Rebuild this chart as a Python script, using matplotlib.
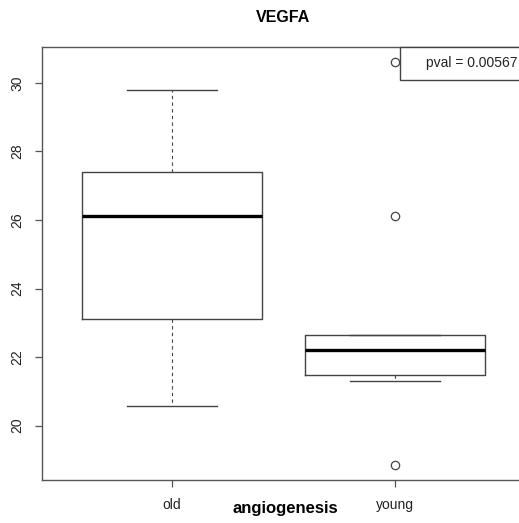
import matplotlib.pyplot as plt

plt.rcParams['font.family'] = ['Liberation Sans', 'DejaVu Sans']

# boxplot summary for VEGFA expression per group
groups = ['old', 'young']
whisker_low = [20.56, 21.29]
q1 = [23.11, 21.47]
medians = [26.13, 22.20]
q3 = [27.39, 22.64]
whisker_high = [29.79, 22.64]
outliers = [[], [30.60, 26.13, 18.86]]
pval = 0.00567

stats = []
for i, g in enumerate(groups):
    stats.append({'label': g, 'whislo': whisker_low[i], 'q1': q1[i], 'med': medians[i],
                  'q3': q3[i], 'whishi': whisker_high[i], 'fliers': outliers[i]})

fig = plt.figure(figsize=(5.19, 5.23), dpi=100)
ax = fig.add_axes([42 / 519, 1 - 480 / 523, 483 / 519, 433 / 523])

edge = '#444444'
ax.bxp(stats, positions=[1, 2], widths=0.805, showfliers=True,
       boxprops=dict(color=edge, linewidth=1.0),
       medianprops=dict(color='black', linewidth=2.4),
       whiskerprops=dict(color=edge, linewidth=0.8, linestyle=(0, (3, 3))),
       capprops=dict(color=edge, linewidth=1.0),
       flierprops=dict(marker='o', markerfacecolor='none', markeredgecolor=edge,
                       markersize=6, markeredgewidth=0.9),
       capwidths=0.4)

ax.set_xlim(0.417, 2.583)
ax.set_ylim(18.41, 31.05)
ax.set_yticks([20, 22, 24, 26, 28, 30])
ax.set_xticks([1, 2])
ax.set_xticklabels(groups)

for s in ax.spines.values():
    s.set_color('#555555')
    s.set_linewidth(1.0)

ax.tick_params(axis='both', direction='out', length=5, width=0.9, color='#555555',
               labelsize=10, pad=8, labelcolor='#222222')
for lab in ax.get_yticklabels():
    lab.set_rotation(90)
    lab.set_va('center')

ax.set_xlabel('angiogenesis', fontsize=12, fontweight='bold', va='center')
ax.xaxis.set_label_coords(0.503, -0.065)

fig.text(0.5455, 1 - 18 / 523, 'VEGFA', fontsize=11.5, fontweight='bold',
         ha='center', va='center')

# p-value box in the top right corner
ax.add_patch(plt.Rectangle((0.741, 0.924), 0.259, 0.076, transform=ax.transAxes,
                           facecolor='white', edgecolor=edge, linewidth=1.0,
                           clip_on=False, zorder=5))
ax.text(0.795, 0.962, 'pval = %.5f' % pval, transform=ax.transAxes, fontsize=10,
        ha='left', va='center', zorder=6, color='#222222')

fig.savefig('out.png', dpi=100)
